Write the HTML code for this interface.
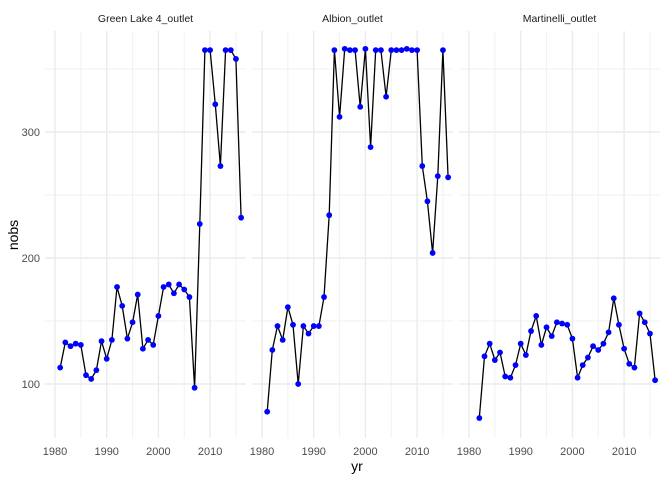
<!DOCTYPE html>
<html><head><meta charset="utf-8"><style>
body{margin:0;background:#fff;font-family:"Liberation Sans",sans-serif}
</style></head><body>
<svg id="chart" width="672" height="480" xmlns="http://www.w3.org/2000/svg">
<text x="0" y="0" transform="translate(18,235) rotate(-90)" text-anchor="middle" font-size="14" fill="#000">nobs</text>
<text x="357" y="471" text-anchor="middle" font-size="14" fill="#000">yr</text>
</svg>
<script>
const facets = ["Green Lake 4_outlet", "Albion_outlet", "Martinelli_outlet"];
const years1 = [1981,1982,1983,1984,1985,1986,1987,1988,1989,1990,1991,1992,1993,1994,1995,1996,1997,1998,1999,2000,2001,2002,2003,2004,2005,2006,2007,2008,2009,2010,2011,2012,2013,2014,2015,2016];
const nobs1 = [113,133,130,132,131,107,104,111,134,120,135,177,162,136,149,171,128,135,131,154,177,179,172,179,175,169,97,227,365,365,322,273,365,365,358,232];
const years2 = [1981,1982,1983,1984,1985,1986,1987,1988,1989,1990,1991,1992,1993,1994,1995,1996,1997,1998,1999,2000,2001,2002,2003,2004,2005,2006,2007,2008,2009,2010,2011,2012,2013,2014,2015,2016];
const nobs2 = [78,127,146,135,161,147,100,146,140,146,146,169,234,365,312,366,365,365,320,366,288,365,365,328,365,365,365,366,365,365,273,245,204,265,365,264];
const years3 = [1982,1983,1984,1985,1986,1987,1988,1989,1990,1991,1992,1993,1994,1995,1996,1997,1998,1999,2000,2001,2002,2003,2004,2005,2006,2007,2008,2009,2010,2011,2012,2013,2014,2015,2016];
const nobs3 = [73,122,132,119,125,106,105,115,132,123,142,154,131,145,138,149,148,147,136,105,115,121,130,127,132,141,168,147,128,116,113,156,149,140,103];
const xTicks = [1980,1990,2000,2010];
const xMinor = [1985,1995,2005,2015];
const yTicks = [100,200,300];
const yMinor = [150,250,350];

const svg = document.getElementById('chart');
const NS = 'http://www.w3.org/2000/svg';
const panelLeft = [45, 252, 459], panelW = 201, plotTop = 31, plotBottom = 438;
const yPos = v => 384 - (v - 100) * 1.26;
function mk(tag, attrs){const e=document.createElementNS(NS,tag);for(const k in attrs)e.setAttribute(k,attrs[k]);svg.appendChild(e);return e;}
const allYears=[years1,years2,years3], allVals=[nobs1,nobs2,nobs3];
facets.forEach((name,i)=>{
  const L=panelLeft[i];
  const xPos = yr => L + 10 + (yr-1980)*5.17;
  yMinor.forEach(v=>{const l=mk('line',{x1:L,x2:L+panelW,y1:yPos(v),y2:yPos(v),stroke:'#f2f2f2','stroke-width':1});
    
    });
  xMinor.forEach(v=>{const l=mk('line',{x1:xPos(v),x2:xPos(v),y1:plotTop,y2:plotBottom,stroke:'#f2f2f2','stroke-width':1});
    
    });
  yTicks.forEach(v=>{const l=mk('line',{x1:L,x2:L+panelW,y1:yPos(v),y2:yPos(v),stroke:'#ebebeb','stroke-width':1.4});
    
    });
  xTicks.forEach(v=>{const l=mk('line',{x1:xPos(v),x2:xPos(v),y1:plotTop,y2:plotBottom,stroke:'#ebebeb','stroke-width':1.4});
    
    
    const t=mk('text',{x:xPos(v),y:455,'text-anchor':'middle','font-size':11,fill:'#4d4d4d'});t.textContent=v;
    
    });
  if(i===0) yTicks.forEach(v=>{const t=mk('text',{x:40,y:yPos(v)+4,'text-anchor':'end','font-size':11,fill:'#4d4d4d'});t.textContent=v;
    
    });
  const st=mk('text',{x:L+panelW/2,y:22,'text-anchor':'middle','font-size':10.5,fill:'#1a1a1a'});st.textContent=name;
  
  
  const ys=allYears[i], vs=allVals[i];
  const pts=ys.map((y,j)=>xPos(y).toFixed(1)+','+yPos(vs[j]).toFixed(1)).join(' ');
  const pl=mk('polyline',{points:pts,fill:'none',stroke:'#000','stroke-width':1.3});
  
  
  ys.forEach((y,j)=>{const c=mk('circle',{cx:xPos(y),cy:yPos(vs[j]),r:2.9,fill:'#0000ff'});
    
    });
});
</script>
</body></html>
